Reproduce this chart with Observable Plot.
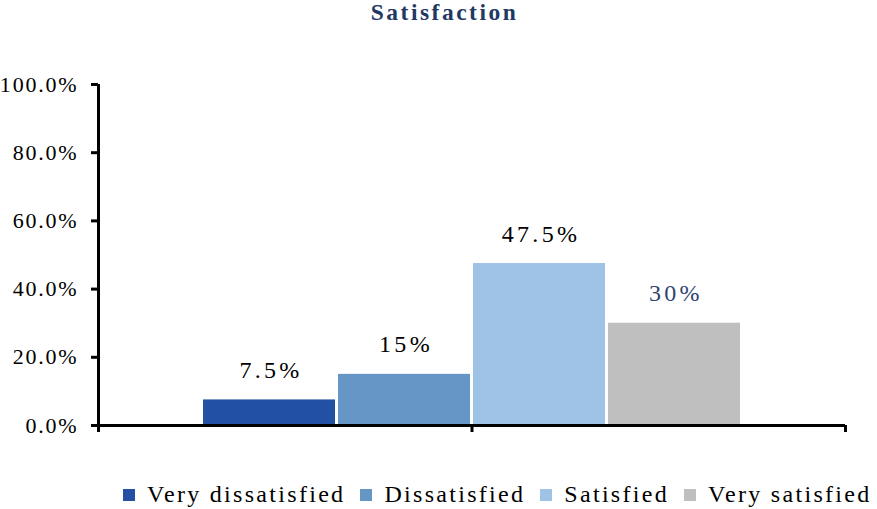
<!DOCTYPE html>
<html>
<head>
<meta charset="utf-8">
<script src="https://cdn.jsdelivr.net/npm/d3@7"></script>
<script src="https://cdn.jsdelivr.net/npm/@observablehq/plot@0.6"></script>
<style>
  html, body { margin: 0; padding: 0; background: #fff; }
  body { width: 877px; height: 509px; overflow: hidden; font-family: "Liberation Serif", "Times New Roman", serif; }
  #title { height: 40px; text-align: center; font-weight: bold; font-size: 23.5px; color: #1F3864;
           letter-spacing: 2.5px; line-height: 24px; padding-left: 12px; box-sizing: border-box; white-space: nowrap; }
  #chart svg { display: block; }
  #chart svg text { font-family: "Liberation Serif", "Times New Roman", serif; }
  #chart [aria-label="y-axis tick label"] text { letter-spacing: 1.8px; }
  #chart g[aria-label="text"] text { letter-spacing: 3.3px; }
  #legend { display: flex; align-items: center; margin-top: 21px; padding-left: 123px; font-size: 24px;
            letter-spacing: 2.3px; color: #000; white-space: nowrap; line-height: 26px; }
  #legend .item { display: flex; align-items: center; margin-right: 15px; flex: none; }
  #legend .sw { width: 12px; height: 12px; margin-right: 12px; margin-top: 2px; flex: none; }
</style>
</head>
<body>
<div id="title">Satisfaction</div>
<div id="chart"></div>
<div id="legend"></div>
<script>
const categories = ["Very dissatisfied", "Dissatisfied", "Satisfied", "Very satisfied"];
const values = [0.075, 0.15, 0.475, 0.30];
const valueLabels = ["7.5%", "15%", "47.5%", "30%"];
const colors = ["#2251A3", "#6696C6", "#9FC3E7", "#BFBFBF"];
const labelColors = ["#000000", "#000000", "#000000", "#2E4470"];
const yTicks = [0, 0.2, 0.4, 0.6, 0.8, 1.0];
const xTicks = [0, 1, 2];

const step = 0.3614;   // bar slot width in x units (layout)
const gap = 0.008;
const data = categories.map((c, i) => ({
  category: c,
  value: values[i],
  label: valueLabels[i],
  color: colors[i],
  labelColor: labelColors[i],
  x1: 1 + (i - 2) * step + gap / 2,
  x2: 1 + (i - 1) * step - gap / 2,
  xc: 1 + (i - 1.5) * step + 0.004
}));

const chart = Plot.plot({
  width: 877,
  height: 420,
  marginLeft: 98,
  marginRight: 32,
  marginTop: 44,
  marginBottom: 35,
  x: { domain: [0, 2], axis: null },
  y: { domain: [0, 1], axis: null },
  marks: [
    Plot.rectY(data, { x1: "x1", x2: "x2", y1: 0, y2: "value", fill: "color" }),
    Plot.text(data, { x: "xc", y: "value", text: "label", fill: "labelColor", lineAnchor: "bottom",
                      dy: -22, fontSize: 24 }),
    Plot.axisY(yTicks, { tickSize: 7, strokeWidth: 3, stroke: "#000", tickFormat: d3.format(".1%"),
                         tickPadding: 13, fontSize: 22, fill: "#000", label: null }),
    Plot.axisX(xTicks, { tickSize: 7, strokeWidth: 3, stroke: "#000", tickFormat: () => "", label: null }),
    Plot.ruleX([0], { y1: 0, y2: 1, stroke: "#000", strokeWidth: 3, insetTop: -1 }),
    Plot.ruleY([0], { x1: 0, x2: 2, stroke: "#000", strokeWidth: 3 })
  ]
});
document.getElementById("chart").appendChild(chart);

const legend = document.getElementById("legend");
categories.forEach((c, i) => {
  const item = document.createElement("div");
  item.className = "item";
  const sw = document.createElement("div");
  sw.className = "sw";
  sw.style.background = colors[i];
  const t = document.createElement("span");
  t.textContent = c;
  item.appendChild(sw);
  item.appendChild(t);
  legend.appendChild(item);
});
</script>
</body>
</html>
